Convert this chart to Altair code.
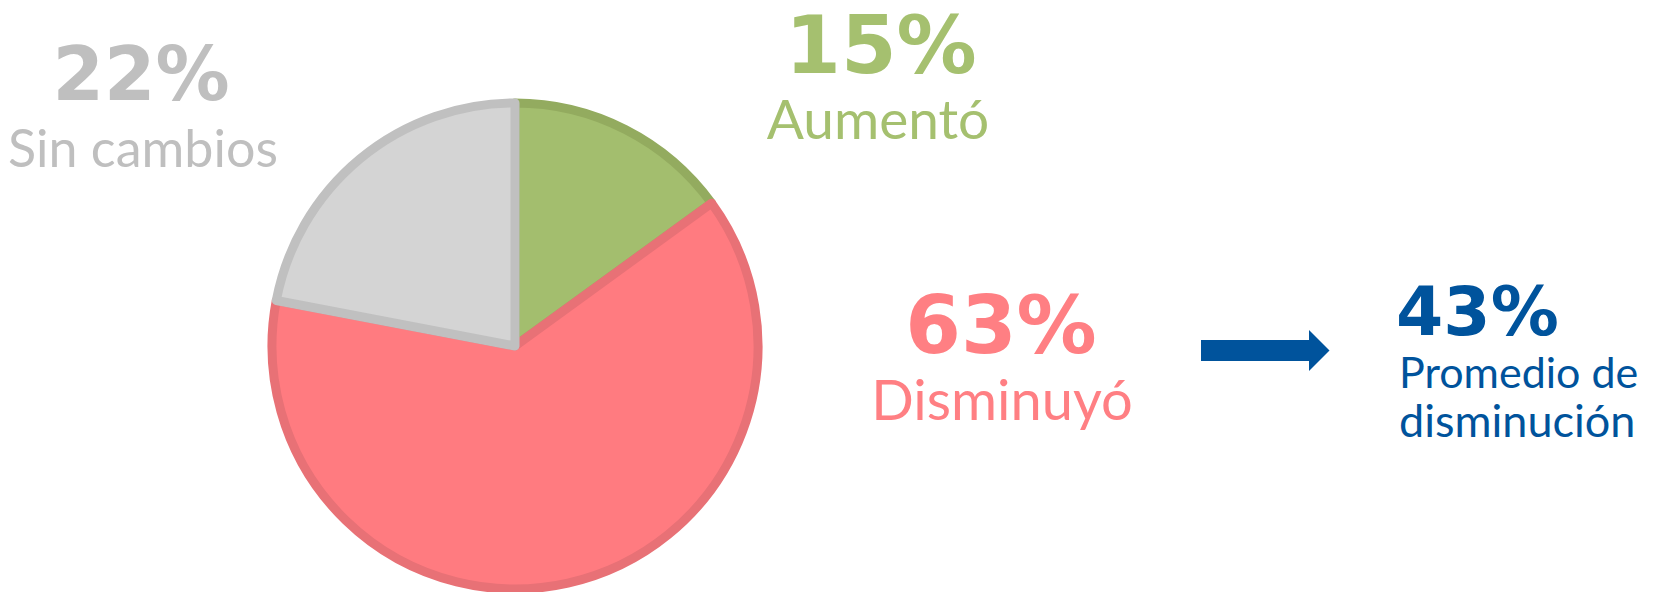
import altair as alt
import pandas as pd

# ---- data ----
categories = ["Aumentó", "Disminuyó", "Sin cambios"]
shares = [15, 63, 22]
avg_decrease = [43]
avg_label_lines = ["Promedio de", "disminución"]

# ---- styles ----
fills = ["#A3BE6E", "#FF7B80", "#D4D4D4"]
strokes = ["#93AB5F", "#E87176", "#C0C0C0"]
text_cols = ["#A5C06F", "#FF7F83", "#BFBFBF"]
blue = "#00539C"

pie_df = pd.DataFrame({"cat": categories, "share": shares, "idx": list(range(len(categories)))})

W, H = 1648, 584

pie = alt.Chart(pie_df).mark_arc(radius=243, strokeWidth=9, strokeJoin="round").encode(
    theta=alt.Theta("share:Q", stack=True),
    color=alt.Color("cat:N", scale=alt.Scale(domain=categories, range=fills), legend=None),
    stroke=alt.Stroke("cat:N", scale=alt.Scale(domain=categories, range=strokes), legend=None),
    order=alt.Order("idx:Q"),
    x=alt.value(505),
    y=alt.value(338),
)


def txt(s, x, y, color, size, font, weight="normal", align="center"):
    return alt.Chart(pd.DataFrame({"t": [s]})).mark_text(
        align=align, baseline="alphabetic", font=font, fontSize=size,
        fontWeight=weight, color=color,
    ).encode(text="t:N", x=alt.value(x), y=alt.value(y))


num_font = "DejaVu Sans"
lab_font = "Lato"

layers = [
    pie,
    # Sin cambios
    txt(f"{shares[2]}%", 131, 92, text_cols[2], 74, num_font, "bold"),
    txt(categories[2], 133, 159, text_cols[2], 52, lab_font),
    # Aumentó
    txt(f"{shares[0]}%", 871, 65, text_cols[0], 80, num_font, "bold"),
    txt(categories[0], 868, 131, text_cols[0], 55, lab_font),
    # Disminuyó
    txt(f"{shares[1]}%", 991, 345, text_cols[1], 80, num_font, "bold"),
    txt(categories[1], 992, 412, text_cols[1], 56, lab_font),
    # average decrease
    txt(f"{avg_decrease[0]}%", 1386, 327, blue, 68, num_font, "bold", "left"),
    txt(avg_label_lines[0], 1389, 380, blue, 43, lab_font, align="left"),
    txt(avg_label_lines[1], 1389, 429, blue, 45, lab_font, align="left"),
]

arrow_df = pd.DataFrame({"v": avg_decrease})
shaft = alt.Chart(arrow_df).mark_rule(color=blue, strokeWidth=21, strokeCap="butt").encode(
    x=alt.value(1191), x2=alt.value(1300), y=alt.value(342.5)
)
head = alt.Chart(arrow_df).mark_point(
    shape="M 0 -1 L 1 0 L 0 1 Z", size=1681, filled=True, color=blue, opacity=1, strokeWidth=0
).encode(x=alt.value(1299), y=alt.value(342.5))
layers += [shaft, head]

chart = alt.layer(*layers).properties(
    width=W, height=H,
    autosize=alt.AutoSizeParams(type="fit", contains="padding"),
    padding=0,
    background="white",
).configure_view(stroke=None)

chart.save("out.html", embed_options={"renderer": "svg", "actions": False})
